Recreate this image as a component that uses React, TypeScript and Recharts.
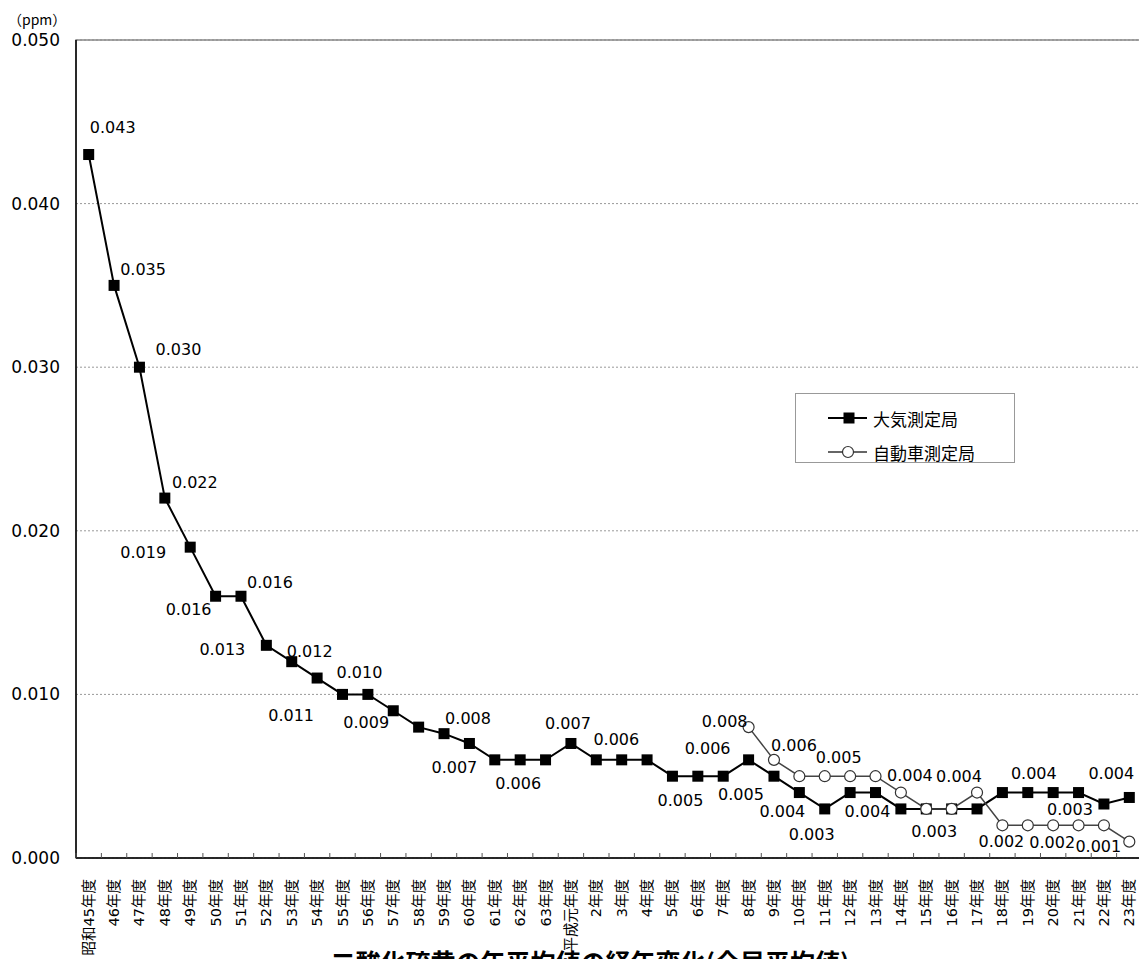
import React from 'react';
import { LineChart, Line, XAxis, YAxis, CartesianGrid, Legend, ReferenceArea } from 'recharts';

const categories = ['昭和45年度','46年度','47年度','48年度','49年度','50年度','51年度','52年度','53年度','54年度','55年度','56年度','57年度','58年度','59年度','60年度','61年度','62年度','63年度','平成元年度','2年度','3年度','4年度','5年度','6年度','7年度','8年度','9年度','10年度','11年度','12年度','13年度','14年度','15年度','16年度','17年度','18年度','19年度','20年度','21年度','22年度','23年度'];

const taikiValues = [0.043,0.035,0.030,0.022,0.019,0.016,0.016,0.013,0.012,0.011,0.010,0.010,0.009,0.008,0.0076,0.007,0.006,0.006,0.006,0.007,0.006,0.006,0.006,0.005,0.005,0.005,0.006,0.005,0.004,0.003,0.004,0.004,0.003,0.003,0.003,0.003,0.004,0.004,0.004,0.004,0.0033,0.0037];

const jidoushaValues: (number | null)[] = [null,null,null,null,null,null,null,null,null,null,null,null,null,null,null,null,null,null,null,null,null,null,null,null,null,null,0.008,0.006,0.005,0.005,0.005,0.005,0.004,0.003,0.003,0.004,0.002,0.002,0.002,0.002,0.002,0.001];

const yTicks = [0, 0.01, 0.02, 0.03, 0.04, 0.05];

const seriesNames = ['大気測定局', '自動車測定局'];
const titleText = '二酸化硫黄の年平均値の経年変化(全局平均値)';
const unitText = '（ppm）';

// label placements (offset of label centre from its point), styling only
const taikiLabelOffsets: Record<number, [number, number]> = {
  0: [24, -27], 1: [29, -16], 2: [39, -18], 3: [30, -16], 4: [-47, 5], 5: [-27, 13],
  6: [29, -14], 7: [-44, 4], 8: [18, -10], 9: [-26, 37], 10: [17, -22], 12: [-27, 12],
  14: [24, -15], 15: [-15, 24], 17: [-2, 24], 19: [-3, -20], 20: [20, -20], 23: [8, 24],
  26: [-41, -11], 27: [-33, 18], 28: [-17, 19], 29: [-13, 26], 31: [-8, 19], 33: [8, 23],
  37: [6, -19], 40: [-34, 5], 41: [-18, -24],
};
const jidoushaLabelOffsets: Record<number, [number, number]> = {
  26: [-24, -6], 27: [20, -14], 29: [14, -19], 32: [9, -17], 35: [-18, -16],
  36: [-1, 16], 38: [-1, 17], 41: [-31, 5],
};

const data = categories.map((name, i) => ({ name, taiki: taikiValues[i], jidousha: jidoushaValues[i] }));

const FONT = "'DejaVu Sans', 'Noto Sans CJK JP', sans-serif";
const CJK = "'Noto Sans CJK JP', sans-serif";
const CHART_W = 1139;
const CHART_H = 980;
const M_LEFT = 8;
const Y_W = 60;
const M_RIGHT = 5;
const PLOT_BOTTOM = 850;
const PLOT_W = CHART_W - M_LEFT - Y_W - M_RIGHT;
const STEP = PLOT_W / categories.length;

const LabelText = ({ x, y, v }: { x: number; y: number; v: number }) => (
  <text x={x} y={y} textAnchor="middle" dominantBaseline="central" fontSize={16} fontFamily={FONT} fill="#000">
    {v.toFixed(3)}
  </text>
);

const TaikiDot = (p: any) => {
  const { cx, cy, index, payload } = p;
  const v = payload?.taiki;
  if (v == null || cx == null || cy == null) return <g key={`t${index}`} />;
  const o = taikiLabelOffsets[index];
  return (
    <g key={`t${index}`}>
      <rect x={cx - 5.5} y={cy - 5.5} width={11} height={11} fill="#000" />
      {o && <LabelText x={cx + o[0]} y={cy + o[1]} v={v} />}
    </g>
  );
};

const JidoushaDot = (p: any) => {
  const { cx, cy, index, payload } = p;
  const v = payload?.jidousha;
  if (v == null || cx == null || cy == null) return <g key={`j${index}`} />;
  const o = jidoushaLabelOffsets[index];
  return (
    <g key={`j${index}`}>
      <circle cx={cx} cy={cy} r={5.5} fill="#fff" stroke="#333" strokeWidth={1.2} />
      {o && <LabelText x={cx + o[0]} y={cy + o[1]} v={v} />}
    </g>
  );
};

const XTick = (p: any) => {
  const { x, payload } = p;
  return (
    <g>
      <line x1={x - STEP / 2} x2={x - STEP / 2} y1={PLOT_BOTTOM} y2={PLOT_BOTTOM - 5} stroke="#555" strokeWidth={1} />
      <text
        transform={`translate(${x},${PLOT_BOTTOM + 21}) rotate(-90)`}
        textAnchor="end"
        dominantBaseline="central"
        fontSize={14.5}
        fontFamily={FONT}
        fill="#000"
      >
        {payload.value}
      </text>
    </g>
  );
};

const LegendBox = () => (
  <div style={{ width: 220, height: 70, border: '1px solid #999', background: '#fff', boxSizing: 'border-box', overflow: 'visible' }}>
    <svg width={218} height={68} style={{ display: 'block', overflow: 'visible' }}>
      <line x1={32} x2={71} y1={24} y2={24} stroke="#000" strokeWidth={2} />
      <rect x={47.5} y={18.5} width={11} height={11} fill="#000" />
      <text x={77} y={24} dominantBaseline="central" fontSize={17} fontFamily={CJK} fill="#000">{seriesNames[0]}</text>
      <line x1={32} x2={71} y1={58} y2={58} stroke="#333" strokeWidth={1.5} />
      <circle cx={52} cy={58} r={5.5} fill="#fff" stroke="#333" strokeWidth={1.2} />
      <text x={77} y={58} dominantBaseline="central" fontSize={17} fontFamily={CJK} fill="#000">{seriesNames[1]}</text>
    </svg>
  </div>
);

export default function App() {
  return (
    <div style={{ position: 'relative', width: CHART_W, height: CHART_H, fontFamily: FONT }}>
      <style>{'html,body{overflow:hidden}'}</style>
      <div style={{ position: 'absolute', left: 0, top: 2, fontSize: 14, lineHeight: '18px', color: '#000', fontFamily: CJK }}>{unitText}</div>
      <LineChart
        width={CHART_W}
        height={CHART_H}
        data={data}
        margin={{ top: 32, right: M_RIGHT, left: M_LEFT, bottom: 0 }}
      >
        <CartesianGrid vertical={false} stroke="#999" strokeDasharray="2 2" />
        <XAxis
          dataKey="name"
          scale="band"
          height={CHART_H - PLOT_BOTTOM}
          interval={0}
          tickLine={false}
          axisLine={{ stroke: '#000', strokeWidth: 1.5 }}
          tick={<XTick />}
        />
        <YAxis
          width={Y_W}
          domain={[0, 0.05]}
          allowDataOverflow={true}
          ticks={yTicks}
          tickFormatter={(v: number) => v.toFixed(3)}
          tickLine={false}
          tickSize={8}
          tickMargin={8}
          axisLine={{ stroke: '#000', strokeWidth: 1.5 }}
          tick={{ fontSize: 17, fill: '#000', fontFamily: FONT }}
        />
        <ReferenceArea y1={0} y2={0.05} fill="none" stroke="#888" strokeWidth={1.5} ifOverflow="visible" />
        <Legend
          layout="vertical"
          align="center"
          verticalAlign="middle"
          content={() => <LegendBox />}
          wrapperStyle={{ left: 787, top: 385, width: 220, height: 70 }}
        />
        <Line
          dataKey="taiki"
          name={seriesNames[0]}
          stroke="#000"
          strokeWidth={2}
          dot={TaikiDot}
          activeDot={false}
          isAnimationActive={false}
        />
        <Line
          dataKey="jidousha"
          name={seriesNames[1]}
          stroke="#444"
          strokeWidth={1.5}
          dot={JidoushaDot}
          activeDot={false}
          connectNulls={false}
          isAnimationActive={false}
        />
      </LineChart>
      <div
        style={{
          position: 'absolute',
          left: 582,
          top: 938,
          transform: 'translateX(-50%)',
          whiteSpace: 'nowrap',
          fontSize: 25,
          fontWeight: 'bold',
          lineHeight: '30px',
          fontFamily: CJK,
          color: '#000',
        }}
      >
        {titleText}
      </div>
    </div>
  );
}
